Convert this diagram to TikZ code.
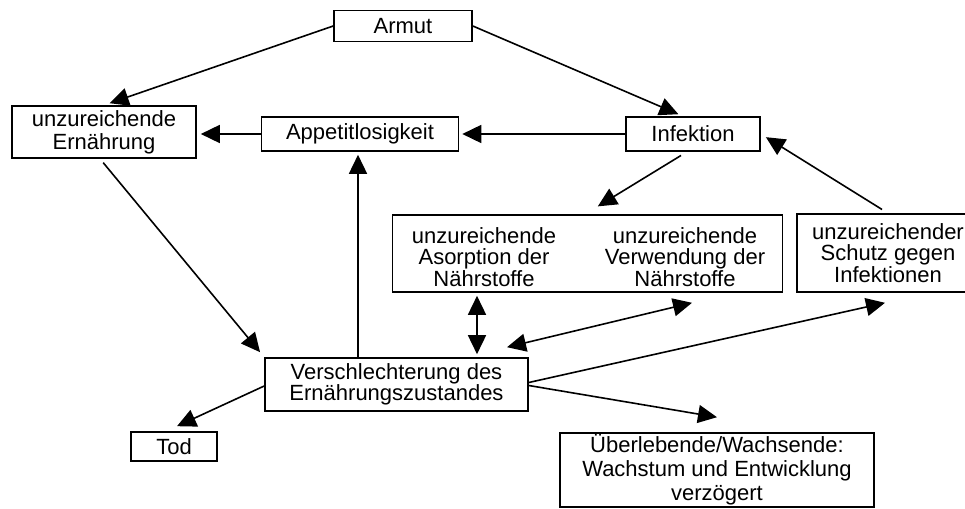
\documentclass[tikz,border=0pt]{standalone}
\usepackage{fontspec}
\setmainfont{Liberation Sans}
\usetikzlibrary{arrows.meta}
\begin{document}
\begin{tikzpicture}[x=1pt,y=-1pt,
  box/.style={draw=black, line width=1.6pt, inner sep=0pt, align=center,
    font=\fontsize{22}{22}\selectfont, text=black},
  txt/.style={inner sep=0pt, align=center, font=\fontsize{22}{21.5}\selectfont, text=black},
  arr/.style={line width=1.6pt, -{Triangle[length=19pt,width=18pt]}},
  darr/.style={line width=1.6pt, {Triangle[length=19pt,width=18pt]}-{Triangle[length=19pt,width=18pt]}}]
\useasboundingbox (0,0) rectangle (965,508);
\fill[white] (0,0) rectangle (965,508);

% boxes
\node[box, minimum width=138pt, minimum height=31pt] (armut) at (403,26) {Armut};
\node[box, minimum width=184pt, minimum height=52pt, font=\fontsize{22}{23}\selectfont] (ue) at (104,132) {unzureichende\\Ernährung};
\node[box, minimum width=197pt, minimum height=34pt] (app) at (360,134) {Appetitlosigkeit};
\node[box, minimum width=134pt, minimum height=34pt] (inf) at (693,134) {Infektion};
\node[box, minimum width=390pt, minimum height=77pt] (big) at (587.5,253.5) {};
\node[txt] (asorp) at (484,257) {unzureichende\\Asorption der\\Nährstoffe};
\node[txt] (verw) at (685,257) {unzureichende\\Verwendung der\\Nährstoffe};
\node[box, minimum width=182pt, minimum height=78pt, font=\fontsize{22}{21.5}\selectfont] (schutz) at (888,253) {unzureichender\\Schutz gegen\\Infektionen};
\node[box, minimum width=263pt, minimum height=53pt, font=\fontsize{22}{18.5}\selectfont] (vers) at (396.5,384.5) {Verschlechterung des\\Ernährungszustandes};
\node[box, minimum width=86pt, minimum height=29pt] (tod) at (174,446.5) {Tod};
\node[box, minimum width=314pt, minimum height=74pt, font=\fontsize{22}{24}\selectfont] (ueber) at (717,470) {Überlebende/Wachsende:\\Wachstum und Entwicklung\\verzögert};

% connectors
\draw[arr, shorten >=6pt] (armut.west) -- (ue.north);
\draw[arr, shorten >=5pt] (armut.east) -- ([xshift=-10pt]inf.north);
\draw[arr, shorten >=4pt] (app.west) -- (app.west -| ue.east);
\draw[arr, shorten >=3pt] (inf.west) -- (inf.west -| app.east);
\draw[arr, shorten <=7pt, shorten >=15pt] ([xshift=-6pt]inf.south) -- ([xshift=-2.5pt]big.north);
\draw[arr, shorten <=7pt, shorten >=6pt] (schutz.north) -- (inf.east);
\draw[arr, shorten <=5pt, shorten >=6.5pt] ([xshift=-4pt]ue.south) -- (vers.north west);
\draw[arr, shorten >=3pt] ([xshift=-38.5pt]vers.north) -- ([xshift=-38.5pt]vers.north |- app.south);
\draw[darr, shorten <=3pt, shorten >=3pt] ([xshift=80.5pt]vers.north) -- ([xshift=-110.5pt]big.south);
\draw[darr] ([xshift=110.5pt,yshift=10pt]vers.north) -- ([xshift=104.5pt,yshift=-10pt]big.south);
\draw[arr] ([yshift=2pt]vers.east) -- ([xshift=-3pt,yshift=-10pt]schutz.south);
\draw[arr] ([yshift=-1pt]vers.east) -- ([yshift=15pt]ueber.north);
\draw[arr] ([yshift=-1.5pt]vers.west) -- ([xshift=3pt,yshift=5pt]tod.north);
\end{tikzpicture}
\end{document}
